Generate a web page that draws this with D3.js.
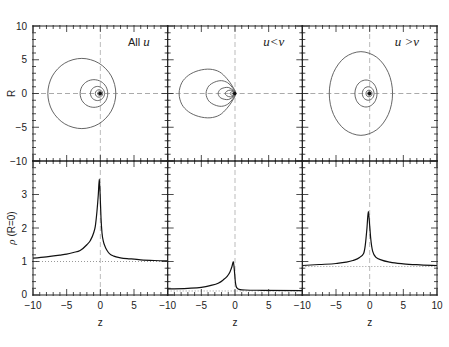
<!DOCTYPE html>
<html>
<head>
<meta charset="utf-8">
<script src="https://cdn.jsdelivr.net/npm/d3@7"></script>
<style>
  body { margin: 0; background: #fff; }
  text { font-family: "Liberation Sans", Arial, sans-serif; }
</style>
</head>
<body>
<div id="viz"></div>
<script>
// panels, left to right
const panels = ["all", "uLessV", "uGreaterV"];
const panelWord = ["All ", "", ""];
const panelMath = ["u", "u<v", "u >v"];

// tick labels
const zTickLabels = [-10, -5, 0, 5, 10];
const rTickLabels = [10, 5, 0, -5, -10];
const rhoTickLabels = [0, 1, 2, 3];

// density contours, upper half of each curve [z, R], mirrored about R = 0
const contoursAll = [
    [[-7.8, 0], [-7.12, 2.6], [-5.28, 4.5], [-2.75, 5.2], [-0.23, 4.5], [1.62, 2.6], [2.3, 0]],
    [[-3.0, 0], [-2.73, 1.03], [-1.98, 1.78], [-0.95, 2.05], [0.08, 1.78], [0.83, 1.03], [1.1, 0]],
    [[-1.47, 0], [-1.16, 0.74], [-0.42, 1.05], [0.32, 0.74], [0.63, 0]],
    [[-0.75, 0], [-0.59, 0.39], [-0.2, 0.55], [0.19, 0.39], [0.35, 0]],
    [[-0.4, 0], [-0.31, 0.21], [-0.1, 0.3], [0.11, 0.21], [0.2, 0]],
    [[-0.2, 0], [-0.16, 0.11], [-0.05, 0.15], [0.06, 0.11], [0.1, 0]]
];
const contoursULessV = [
    [[-8.3, 0], [-7.9, 1.6], [-6.9, 2.7], [-5.4, 3.4], [-3.7, 3.6], [-2.3, 3.2], [-1.2, 2.2], [-0.4, 1.1], [0.1, 0]],
    [[-4.3, 0], [-3.9, 1.1], [-3.0, 1.7], [-2.0, 1.9], [-1.1, 1.6], [-0.4, 0.9], [0.05, 0]],
    [[-2.5, 0], [-2.2, 0.6], [-1.6, 0.85], [-1.0, 0.9], [-0.5, 0.65], [-0.1, 0.3], [0.05, 0]],
    [[-1.45, 0], [-1.2, 0.35], [-0.7, 0.5], [-0.3, 0.4], [0.05, 0]],
    [[-0.75, 0], [-0.55, 0.22], [-0.3, 0.28], [-0.05, 0.15], [0.05, 0]],
    [[-0.4, 0], [-0.25, 0.15], [-0.05, 0.1], [0.03, 0]]
];
const contoursUGreaterV = [
    [[-6.0, 0], [-5.37, 3.1], [-3.65, 5.37], [-1.3, 6.2], [1.05, 5.37], [2.77, 3.1], [3.4, 0]],
    [[-2.2, 0], [-1.98, 1.0], [-1.38, 1.73], [-0.55, 2.0], [0.28, 1.73], [0.88, 1.0], [1.1, 0]],
    [[-1.09, 0], [-0.84, 0.71], [-0.22, 1.0], [0.4, 0.71], [0.65, 0]],
    [[-0.55, 0], [-0.42, 0.35], [-0.1, 0.5], [0.22, 0.35], [0.35, 0]],
    [[-0.3, 0], [-0.23, 0.2], [-0.05, 0.28], [0.13, 0.2], [0.2, 0]],
    [[-0.15, 0], [-0.11, 0.1], [-0.02, 0.14], [0.07, 0.1], [0.11, 0]]
];
const centreDots = [[-0.03, 0], [-0.03, 0], [-0.02, 0]];

// density along the axis, rho(R=0) against z
const profileAll = [
    [-10, 1.10], [-8, 1.14], [-6, 1.19], [-5, 1.22], [-4, 1.27], [-3, 1.33], [-2, 1.5],
    [-1.5, 1.62], [-1, 1.85], [-0.75, 2.05], [-0.5, 2.5], [-0.3, 3.0], [-0.15, 3.46],
    [-0.05, 3.1], [0.1, 2.3], [0.25, 1.85], [0.45, 1.6], [0.7, 1.45], [1, 1.33],
    [1.44, 1.22], [2, 1.16], [3, 1.11], [4.4, 1.08], [6, 1.05], [8, 1.03], [10, 1.02]
];
const profileULessV = [
    [-10, 0.18], [-7, 0.2], [-5, 0.23], [-3.7, 0.28], [-2.5, 0.35], [-1.75, 0.45],
    [-1.2, 0.55], [-0.75, 0.69], [-0.45, 0.85], [-0.25, 1.0], [-0.1, 0.75], [0.05, 0.4],
    [0.25, 0.22], [0.6, 0.17], [1.5, 0.15], [4, 0.14], [10, 0.13]
];
const profileUGreaterV = [
    [-10, 0.88], [-7.5, 0.91], [-5, 0.94], [-3.5, 0.98], [-2.5, 1.03], [-1.5, 1.12],
    [-0.9, 1.24], [-0.65, 1.49], [-0.4, 2.0], [-0.2, 2.5], [-0.05, 2.2], [0.15, 1.7],
    [0.45, 1.3], [0.9, 1.13], [1.8, 1.04], [3, 0.98], [5, 0.93], [7.5, 0.9], [10, 0.88]
];
const baselines = [1.0, 0.12, 0.85];

const contours = [contoursAll, contoursULessV, contoursUGreaterV];
const profiles = [profileAll, profileULessV, profileUGreaterV];

const width = 449;
const height = 347;

const svg = d3.select("#viz").append("svg")
    .attr("width", width)
    .attr("height", height);

const band = d3.scaleBand().domain(panels).range([33, 437]).paddingInner(0);
const rScale = d3.scaleLinear().domain([-10, 10]).range([161, 26]);
const rhoScale = d3.scaleLinear().domain([0, 4]).range([295, 161]);

const contourLine = d3.line().curve(d3.curveCatmullRomClosed);
const profileLine = d3.line().curve(d3.curveMonotoneX);

function mirror(half) {
    const lower = half.slice(1, -1).reverse().map(([z, r]) => [z, -r]);
    return half.concat(lower);
}

function ticks(g, x, y, xs, ys, xMinor, yMinor) {
    // inward ticks on all four sides
    const minor = 3, major = 6;
    d3.range(xs[0], xs[1] + 1e-9, xMinor).forEach(v => {
        const len = Math.abs(v % 5) < 1e-6 ? major : minor;
        const px = x(v);
        g.append("line").attr("x1", px).attr("x2", px).attr("y1", y.range()[0] + 1).attr("y2", y.range()[0] - len);
        g.append("line").attr("x1", px).attr("x2", px).attr("y1", y.range()[1] - 1).attr("y2", y.range()[1] + len);
    });
    d3.range(ys[0], ys[1] + 1e-9, yMinor).forEach(v => {
        const isMajor = Math.abs(v / ys[2] - Math.round(v / ys[2])) < 1e-6;
        const len = isMajor ? major : minor;
        const py = y(v);
        g.append("line").attr("y1", py).attr("y2", py).attr("x1", x.range()[0] - 1).attr("x2", x.range()[0] + len);
        g.append("line").attr("y1", py).attr("y2", py).attr("x1", x.range()[1] + 1).attr("x2", x.range()[1] - len);
    });
    g.selectAll("line").attr("stroke", "#222").attr("stroke-width", 0.8);
}

panels.forEach((key, i) => {
    const x0 = band(key);
    const x = d3.scaleLinear().domain([-10, 10]).range([x0, x0 + band.bandwidth()]);

    // ---- top: contours ----
    const top = svg.append("g");
    top.append("line")
        .attr("x1", x(-10)).attr("x2", x(10)).attr("y1", rScale(0)).attr("y2", rScale(0))
        .attr("stroke", "#aaa").attr("stroke-dasharray", "5,3");
    top.append("line")
        .attr("x1", x(0)).attr("x2", x(0)).attr("y1", rScale(10)).attr("y2", rScale(-10))
        .attr("stroke", "#bbb").attr("stroke-dasharray", "5,3");

    top.selectAll("path.contour")
        .data(contours[i])
        .enter()
        .append("path")
        .attr("class", "contour")
        .attr("d", half => contourLine(mirror(half).map(([z, r]) => [x(z), rScale(r)])))
        .attr("fill", "none")
        .attr("stroke", "#555")
        .attr("stroke-width", 0.9);

    top.append("circle")
        .attr("cx", x(centreDots[i][0]))
        .attr("cy", rScale(centreDots[i][1]))
        .attr("r", 1.8)
        .attr("fill", "#111");

    ticks(svg.append("g"), x, rScale, [-10, 10], [-10, 10, 5], 1, 1);

    top.append("rect")
        .attr("x", x(-10)).attr("y", rScale(10))
        .attr("width", band.bandwidth()).attr("height", rScale(-10) - rScale(10))
        .attr("fill", "none").attr("stroke", "#222").attr("stroke-width", 1);

    const title = top.append("text")
        .attr("x", x(10) - 18)
        .attr("y", 46)
        .attr("text-anchor", "end")
        .attr("fill", "#222")
        .attr("font-size", "11px");
    if (panelWord[i]) title.append("tspan").text(panelWord[i]);
    title.append("tspan")
        .attr("font-family", "Liberation Serif, serif")
        .attr("font-style", "italic")
        .attr("font-size", "13px")
        .text(panelMath[i]);

    // ---- bottom: axial density ----
    const bottom = svg.append("g");
    bottom.append("line")
        .attr("x1", x(0)).attr("x2", x(0)).attr("y1", rhoScale(0)).attr("y2", rhoScale(4))
        .attr("stroke", "#bbb").attr("stroke-dasharray", "5,3");
    bottom.append("line")
        .attr("x1", x(-10)).attr("x2", x(10))
        .attr("y1", rhoScale(baselines[i])).attr("y2", rhoScale(baselines[i]))
        .attr("stroke", "#999").attr("stroke-dasharray", "1,2");

    bottom.append("path")
        .attr("d", profileLine(profiles[i].map(([z, p]) => [x(z), rhoScale(p)])))
        .attr("fill", "none")
        .attr("stroke", "#111")
        .attr("stroke-width", 1.2);

    ticks(svg.append("g"), x, rhoScale, [-10, 10], [0, 4, 1], 1, 0.2);

    bottom.append("rect")
        .attr("x", x(-10)).attr("y", rhoScale(4))
        .attr("width", band.bandwidth()).attr("height", rhoScale(0) - rhoScale(4))
        .attr("fill", "none").attr("stroke", "#222").attr("stroke-width", 1);

    // z tick labels, the last one only on the right panel
    const zLabels = i === panels.length - 1 ? zTickLabels : zTickLabels.slice(0, -1);
    svg.append("g").selectAll("text")
        .data(zLabels)
        .enter()
        .append("text")
        .attr("x", d => x(d))
        .attr("y", 309)
        .attr("text-anchor", "middle")
        .attr("font-size", "10px")
        .attr("fill", "#222")
        .text(d => String(d).replace("-", "\u2212"));

    svg.append("text")
        .attr("x", x(0))
        .attr("y", 326)
        .attr("text-anchor", "middle")
        .attr("font-size", "10px")
        .attr("fill", "#222")
        .text("z");
});

// y tick labels on the left panel
svg.append("g").selectAll("text")
    .data(rTickLabels)
    .enter()
    .append("text")
    .attr("x", 27)
    .attr("y", d => rScale(d) + 3.6)
    .attr("text-anchor", "end")
    .attr("font-size", "10px")
    .attr("fill", "#222")
    .text(d => String(d).replace("-", "\u2212"));

svg.append("g").selectAll("text")
    .data(rhoTickLabels)
    .enter()
    .append("text")
    .attr("x", 27)
    .attr("y", d => rhoScale(d) + (d === 0 ? 2.5 : 3.6))
    .attr("text-anchor", "end")
    .attr("font-size", "10px")
    .attr("fill", "#222")
    .text(d => d);

svg.append("text")
    .attr("transform", "translate(15," + rScale(0) + ") rotate(-90)")
    .attr("text-anchor", "middle")
    .attr("font-size", "10px")
    .attr("fill", "#222")
    .text("R");

const rhoLabel = svg.append("text")
    .attr("transform", "translate(15,228) rotate(-90)")
    .attr("text-anchor", "middle")
    .attr("font-size", "10px")
    .attr("fill", "#222");
rhoLabel.append("tspan")
    .attr("font-family", "Liberation Serif, serif")
    .attr("font-style", "italic")
    .attr("font-size", "11px")
    .text("\u03c1");
rhoLabel.append("tspan").text("  (R=0)");
</script>
</body>
</html>
